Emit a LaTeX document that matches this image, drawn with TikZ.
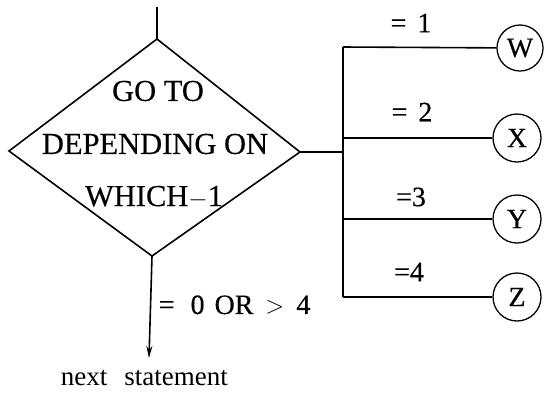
\documentclass[tikz,border=0pt]{standalone}
\usepackage{fontspec}
\setmainfont{Liberation Serif}
\newfontfamily\heavy[FakeBold=0.4]{Liberation Serif}
\usetikzlibrary{arrows.meta}
\begin{document}
\begin{tikzpicture}[x=1pt,y=-1pt,line width=1.6pt,
  lab/.style={inner sep=0pt,font=\heavy\fontsize{28}{30}\selectfont},
  big/.style={inner sep=0pt,font=\heavy\fontsize{30.5}{32}\selectfont},
  term/.style={circle,draw,line width=1.3pt,minimum size=48pt,inner sep=0pt,font=\heavy\fontsize{28}{30}\selectfont}]
\useasboundingbox (0,0) rectangle (545,392);
% diamond
\coordinate (in) at (157,7);
\coordinate (t) at (157,39);
\coordinate (r) at (300,152);
\coordinate (b) at (152,256);
\coordinate (l) at (9,151);
\draw (t) -- (r) -- (b) -- (l) -- cycle;
\draw (in) -- (t);
\node[big] (g1) at (158,91) {GO TO};
\node[big] (g2) at (155,144) {DEPENDING ON};
\node[big] (g3) at (154,197) {WHICH$-$1};
% bus
\coordinate (bm) at (343,152);
\coordinate (bw) at (343,47);
\coordinate (bx) at (343,138);
\coordinate (by) at (343,219);
\coordinate (bz) at (343,297);
\draw (r) -- (bm);
\draw (bw) -- (bz);
\node[term,minimum size=46pt] (W) at (520,48) {W};
\node[term] (X) at (517,138) {X};
\node[term] (Y) at (517,219) {Y};
\node[term] (Z) at (517,297) {Z};
\draw (bw) -- (W);
\draw (bx) -- (X);
\draw (by) -- (Y);
\draw (bz) -- (Z);
\node[lab] (l1) at (411,23) {=\hspace{11pt}1};
\node[lab] (l2) at (412,112) {=\hspace{11pt}2};
\node[lab] (l3) at (411,197) {=3};
\node[lab] (l4) at (409,272) {=4};
% down
\coordinate (out) at (149,358);
\draw[-{Stealth[length=12pt,width=6pt]}] (b) -- (out);
\node[lab,anchor=west] (l0) at (158,305) {=\hspace{16pt}0\hspace{10pt}OR\hspace{12pt}$>$\hspace{12pt}4};
\node[inner sep=0pt,anchor=base west,font=\fontsize{27}{29}\selectfont] (ns) at (60,385) {next\hspace{17pt}statement};
\end{tikzpicture}
\end{document}
